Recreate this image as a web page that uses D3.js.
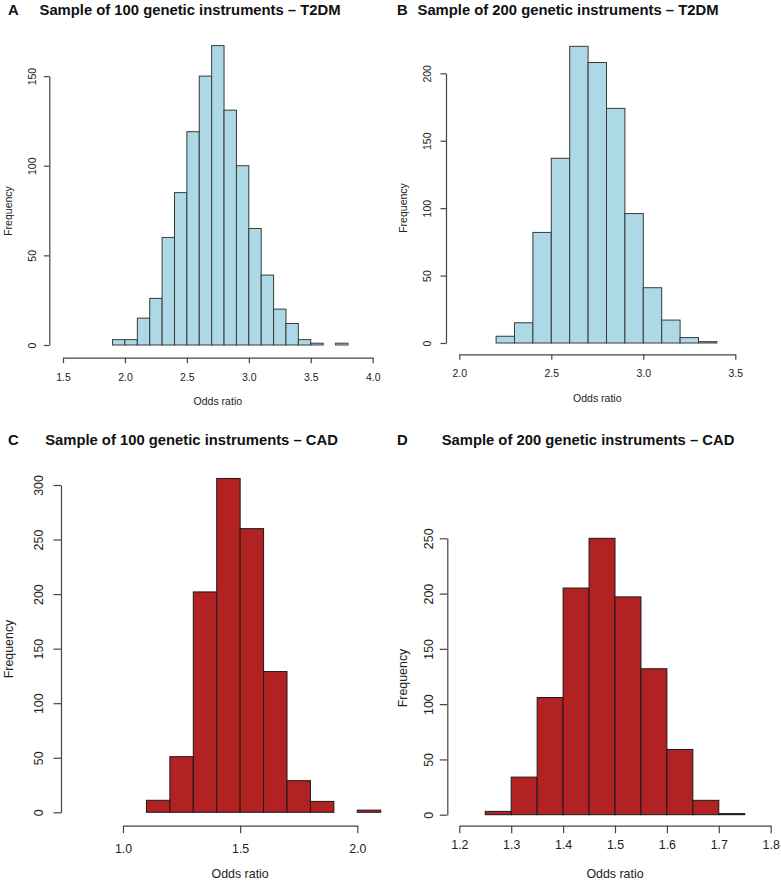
<!DOCTYPE html>
<html>
<head>
<meta charset="utf-8">
<script src="https://cdn.jsdelivr.net/npm/d3@7"></script>
<style>
  html, body { margin: 0; padding: 0; background: #fff; }
  svg { display: block; font-family: "Liberation Sans", Arial, Helvetica, sans-serif; }
</style>
</head>
<body>
<svg id="chart" width="781" height="883"></svg>
<script>
// ---- Data ----
const binsA = [1.9,2.0,2.1,2.2,2.3,2.4,2.5,2.6,2.7,2.8,2.9,3.0,3.1,3.2,3.3,3.4,3.5,3.6,3.7,3.8];
const countsA = [3,3,15,26,60,85,119,150,167,131,100,65,39,20,12,3,1,0,1];
const xTicksA = [1.5,2.0,2.5,3.0,3.5,4.0];
const yTicksA = [0,50,100,150];

const binsB = [2.2,2.3,2.4,2.5,2.6,2.7,2.8,2.9,3.0,3.1,3.2,3.3,3.4];
const countsB = [5,15,82,137,220,208,174,96,41,17,4,1];
const xTicksB = [2.0,2.5,3.0,3.5];
const yTicksB = [0,50,100,150,200];

const binsC = [1.1,1.2,1.3,1.4,1.5,1.6,1.7,1.8,1.9,2.0,2.1];
const countsC = [11,51,202,306,260,129,29,10,0,2];
const xTicksC = [1.0,1.5,2.0];
const yTicksC = [0,50,100,150,200,250,300];

const binsD = [1.25,1.30,1.35,1.40,1.45,1.50,1.55,1.60,1.65,1.70,1.75];
const countsD = [3,34,106,205,250,197,132,59,13,1];
const xTicksD = [1.2,1.3,1.4,1.5,1.6,1.7,1.8];
const yTicksD = [0,50,100,150,200,250];

const titles = [
  "Sample of 100 genetic instruments \u2013 T2DM",
  "Sample of 200 genetic instruments \u2013 T2DM",
  "Sample of 100 genetic instruments \u2013 CAD",
  "Sample of 200 genetic instruments \u2013 CAD"
];
const letters = ["A","B","C","D"];
const xLabel = "Odds ratio";
const yLabel = "Frequency";

// ---- Layout (positions / styles only) ----
const panels = [
  { bins: binsA, counts: countsA, xt: xTicksA, yt: yTicksA, fill: "#ADD8E6", stroke: "#3a3a3a",
    xr: [63, 372.7], yr: [345, 76.1], yAxisX: 49.3, xAxisY: 357.7, tick: 5.5, fs: 10.5,
    xLabY: 376.7, xTitleY: 400.7, yLabX: 31.7, yTitleX: 7.5, yTitleY: 211,
    letterX: 8, titleX: 190, titleY: 14.5, titleFs: 14.8 },
  { bins: binsB, counts: countsB, xt: xTicksB, yt: yTicksB, fill: "#ADD8E6", stroke: "#3a3a3a",
    xr: [459.3, 735.3], yr: [343, 73.3], yAxisX: 446, xAxisY: 354.3, tick: 5.5, fs: 10.5,
    xLabY: 373.3, xTitleY: 398.3, yLabX: 427.3, yTitleX: 403.3, yTitleY: 208,
    letterX: 397, titleX: 568, titleY: 14.5, titleFs: 14.8 },
  { bins: binsC, counts: countsC, xt: xTicksC, yt: yTicksC, fill: "#B22222", stroke: "#1a1a1a",
    xr: [123, 357.3], yr: [812.3, 485], yAxisX: 61, xAxisY: 825.7, tick: 7.5, fs: 12.4,
    xLabY: 848.7, xTitleY: 874.3, yLabX: 39.3, yTitleX: 8.5, yTitleY: 649,
    letterX: 8, titleX: 191.5, titleY: 445, titleFs: 14.8 },
  { bins: binsD, counts: countsD, xt: xTicksD, yt: yTicksD, fill: "#B22222", stroke: "#1a1a1a",
    xr: [459.3, 770.7], yr: [814.7, 538.3], yAxisX: 447.3, xAxisY: 825.7, tick: 7.5, fs: 12.4,
    xLabY: 844.7, xTitleY: 874, yLabX: 429.3, yTitleX: 403.3, yTitleY: 678,
    letterX: 397, titleX: 588, titleY: 445, titleFs: 14.8 }
];

const svg = d3.select("#chart");
const axisColor = "#444";
const textColor = "#222";

panels.forEach((p, i) => {
  const g = svg.append("g");
  const x = d3.scaleLinear().domain([p.xt[0], p.xt[p.xt.length - 1]]).range(p.xr);
  const y = d3.scaleLinear().domain([0, p.yt[p.yt.length - 1]]).range(p.yr);

  const bars = p.counts.map((c, j) => ({ x0: p.bins[j], x1: p.bins[j + 1], n: c }));

  // bars
  g.append("g").selectAll("rect").data(bars).join("rect")
    .attr("x", d => x(d.x0))
    .attr("y", d => y(d.n))
    .attr("width", d => x(d.x1) - x(d.x0))
    .attr("height", d => y(0) - y(d.n))
    .attr("fill", p.fill)
    .attr("stroke", p.stroke)
    .attr("stroke-width", 1);

  // x axis
  const xa = g.append("g").attr("transform", `translate(0,${p.xAxisY})`)
    .call(d3.axisBottom(x).tickValues(p.xt).tickSizeInner(p.tick).tickSizeOuter(0)
      .tickFormat(d3.format(".1f")));
  xa.selectAll("path, line").attr("stroke", axisColor).attr("stroke-width", 1.2);
  xa.selectAll("text").attr("font-size", p.fs).attr("fill", textColor)
    .attr("dy", null)
    .attr("dominant-baseline", "central")
    .attr("y", p.xLabY - p.xAxisY);

  // y axis
  const ya = g.append("g").attr("transform", `translate(${p.yAxisX},0)`)
    .call(d3.axisLeft(y).tickValues(p.yt).tickSizeInner(p.tick).tickSizeOuter(0));
  ya.selectAll("path, line").attr("stroke", axisColor).attr("stroke-width", 1.2);
  ya.selectAll(".tick text")
    .attr("x", 0).attr("y", 0).attr("dy", null)
    .attr("font-size", p.fs).attr("fill", textColor)
    .attr("text-anchor", "middle")
    .attr("dominant-baseline", "central")
    .attr("transform", `translate(${p.yLabX - p.yAxisX},0) rotate(-90)`);

  // axis titles
  g.append("text")
    .attr("x", (p.xr[0] + p.xr[1]) / 2).attr("y", p.xTitleY)
    .attr("text-anchor", "middle").attr("dominant-baseline", "central")
    .attr("font-size", p.fs).attr("fill", textColor).text(xLabel);
  g.append("text")
    .attr("transform", `translate(${p.yTitleX},${p.yTitleY}) rotate(-90)`)
    .attr("text-anchor", "middle").attr("dominant-baseline", "central")
    .attr("font-size", p.fs).attr("fill", textColor).text(yLabel);

  // panel titles
  g.append("text")
    .attr("x", p.letterX).attr("y", p.titleY)
    .attr("font-size", p.titleFs).attr("font-weight", "bold").attr("fill", "#111")
    .text(letters[i]);
  g.append("text")
    .attr("x", p.titleX).attr("y", p.titleY)
    .attr("text-anchor", "middle")
    .attr("font-size", p.titleFs).attr("font-weight", "bold").attr("fill", "#111")
    .text(titles[i]);
});
</script>
</body>
</html>
